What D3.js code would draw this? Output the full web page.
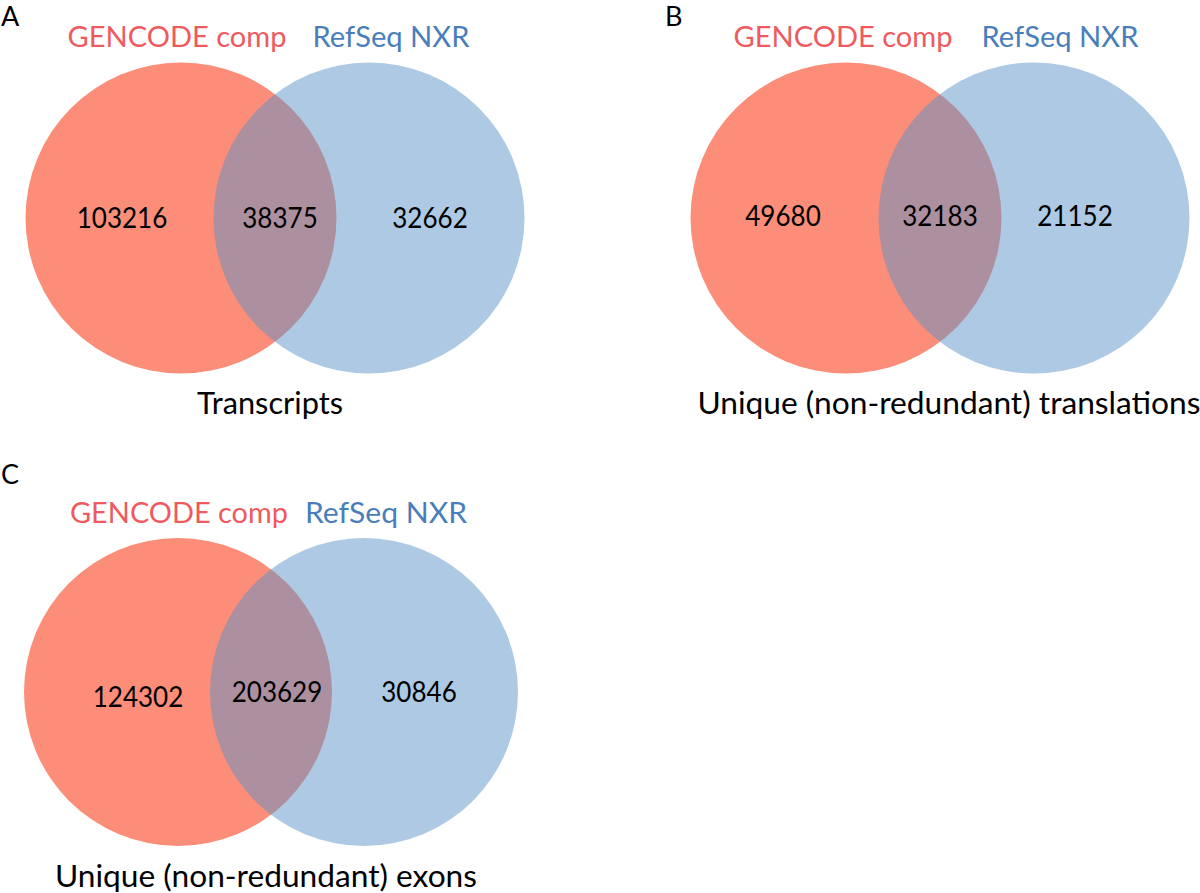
<!DOCTYPE html>
<html>
<head>
<meta charset="utf-8">
<script src="https://cdn.jsdelivr.net/npm/d3@7"></script>
<style>
  html, body { margin: 0; padding: 0; background: #ffffff; }
  svg { display: block; }
  text { font-family: Lato, "Open Sans", sans-serif; }
</style>
</head>
<body>
<svg id="chart" width="1200" height="893"></svg>
<script>
// ---- data ----
const panelLetters = ["A", "B", "C"];
const setNames = ["GENCODE comp", "RefSeq NXR"];
const onlyLeft = [103216, 49680, 124302];
const shared = [38375, 32183, 203629];
const onlyRight = [32662, 21152, 30846];
const captions = ["Transcripts", "Unique (non-redundant) translations", "Unique (non-redundant) exons"];

// ---- layout (styling, not data) ----
const svg = d3.select("#chart");
const colRed = "#FB8D79", colBlue = "#5D93C7";
const titleRed = "#EF5A5F", titleBlue = "#4A7EBB";

// panel origins
const panelX = d3.scaleOrdinal().domain(panelLetters).range([0, 665, 0]);
const panelY = d3.scaleOrdinal().domain(panelLetters).range([0, 0, 476]);

// local geometry per panel
const geo = {
  A: { cx: [181, 369], cy: 218, r: 155.5, nums: [[122, 0], [280, 0], [430, 0]], titles: [177, 391], tW: [219, 157], capX: 270, capY: 414, capW: 146, letterY: 26, letterX: 1 },
  B: { cx: [181, 369], cy: 218, r: 155.5, nums: [[118, -2], [275, -2], [410, -2]], titles: [178, 395], tW: [219, 157], capX: 284, capY: 414, capW: 503, letterY: 26, letterX: 0 },
  C: { cx: [178, 364], cy: 216, r: 154, nums: [[138, 5], [277, 0], [419, 0]], titles: [179, 386], tW: [218, 162], capX: 266, capY: 411, capW: 422, letterY: 8, letterX: 1 }
};

const fmt = d3.format("d");

panelLetters.forEach((L, i) => {
  const g0 = geo[L];
  const g = svg.append("g").attr("transform", `translate(${panelX(L)},${panelY(L)})`);

  // panel letter
  g.append("text").attr("x", g0.letterX).attr("y", g0.letterY)
    .attr("font-size", 27).attr("fill", "#000").text(L);

  // set titles
  setNames.forEach((n, k) => {
    g.append("text")
      .attr("x", g0.titles[k]).attr("y", 47)
      .attr("text-anchor", "middle")
      .attr("font-size", 29)
      .attr("textLength", g0.tW[k]).attr("lengthAdjust", "spacingAndGlyphs")
      .attr("fill", k === 0 ? titleRed : titleBlue)
      .text(n);
  });

  // circles
  g.append("circle").attr("cx", g0.cx[0]).attr("cy", g0.cy).attr("r", g0.r).attr("fill", colRed);
  g.append("circle").attr("cx", g0.cx[1]).attr("cy", g0.cy).attr("r", g0.r).attr("fill", colBlue).attr("fill-opacity", 0.5);

  // counts
  const vals = [onlyLeft[i], shared[i], onlyRight[i]];
  vals.forEach((v, k) => {
    const s = fmt(v);
    g.append("text")
      .attr("x", g0.nums[k][0]).attr("y", g0.cy + g0.nums[k][1] + 10)
      .attr("text-anchor", "middle")
      .attr("font-size", 28)
      .attr("textLength", s.length * 15.1).attr("lengthAdjust", "spacingAndGlyphs")
      .attr("fill", "#000")
      .text(s);
  });

  // caption
  g.append("text")
    .attr("x", g0.capX).attr("y", g0.capY)
    .attr("text-anchor", "middle")
    .attr("font-size", 30)
    .attr("textLength", g0.capW).attr("lengthAdjust", "spacingAndGlyphs")
    .attr("fill", "#000")
    .text(captions[i]);
});
</script>
</body>
</html>
